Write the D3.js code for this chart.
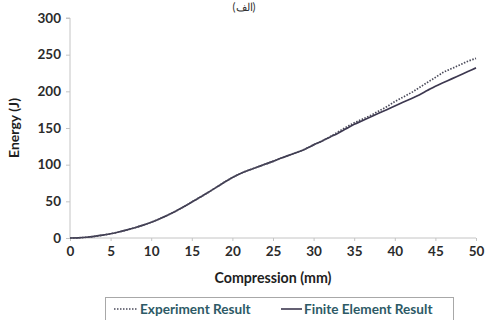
<!DOCTYPE html>
<html>
<head>
<meta charset="utf-8">
<script src="https://cdn.jsdelivr.net/npm/d3@7"></script>
<style>
  html, body { margin: 0; padding: 0; background: #fff; }
  svg { display: block; }
  text { font-family: Lato, "Open Sans", sans-serif; }
</style>
</head>
<body>
<svg id="chart" width="488" height="320"></svg>
<script>
// Compression (mm) sample points
const compression = [0, 1, 2, 3, 4, 5, 6, 7, 8, 9, 10, 11, 12, 13, 14, 15, 16, 17, 18, 19, 20,
  21, 22, 23, 24, 25, 26, 27, 28, 29, 30, 31, 32, 33, 34, 35, 36, 37, 38, 39, 40,
  41, 42, 43, 44, 45, 46, 47, 48, 49, 50];
// Absorbed energy (J), experiment
const experimentEnergy = [0, 0.3, 1, 2.2, 3.8, 5.8, 8.2, 11, 14, 17.5, 21.5, 26, 31, 36.5, 42.5, 49, 55.5, 62, 69, 76, 82.5,
  88, 92.5, 96.5, 100.5, 104.5, 109, 113, 117, 121.5, 127, 132, 138, 144.5, 151, 157, 162, 167, 173, 179, 186,
  192, 198, 205, 212, 219, 226, 231, 236, 241, 245];
// Absorbed energy (J), finite element model
const feEnergy = [0, 0.3, 1, 2.2, 3.8, 5.8, 8.2, 11, 14, 17.5, 21.5, 26, 31, 36.5, 42.5, 49, 55.5, 62, 69, 76, 82.5,
  88, 92.5, 96.5, 100.5, 104.5, 109, 113, 117, 121.5, 127, 132, 137.5, 143, 149, 155, 160, 165, 170, 175, 180,
  185, 190, 195, 201, 207, 212, 217, 222, 227, 232];
const xTicks = [0, 5, 10, 15, 20, 25, 30, 35, 40, 45, 50];
const yTicks = [0, 50, 100, 150, 200, 250, 300];
const seriesNames = ["Experiment Result", "Finite Element Result"];

const svg = d3.select("#chart");
const plotLeft = 70, plotRight = 476, plotTop = 18, plotBottom = 238;

const x = d3.scaleLinear().domain([0, 50]).range([plotLeft, plotRight]);
const y = d3.scaleLinear().domain([0, 300]).range([plotBottom, plotTop]);

const axisColor = "#c4c4c4";
const labelColor = "#2b2b2b";

// Title
svg.append("text")
  .attr("x", 244).attr("y", 11)
  .attr("text-anchor", "middle")
  .attr("font-size", 11)
  .attr("font-family", "'DejaVu Sans', sans-serif")
  .attr("fill", "#333")
  .text("(الف)");

// Y axis
const yAxis = svg.append("g")
  .attr("transform", `translate(${plotLeft},0)`)
  .call(d3.axisLeft(y).tickValues(yTicks).tickSize(4).tickPadding(5).tickFormat(d3.format("d")));
yAxis.select(".domain").attr("stroke", axisColor).attr("d", `M-4,${plotTop}H0V${plotBottom}`);
yAxis.selectAll(".tick line").attr("stroke", axisColor);
yAxis.selectAll(".tick text")
  .attr("font-family", "Lato, sans-serif")
  .attr("font-size", 13.5).attr("font-weight", "bold").attr("fill", labelColor);

// X axis
const xAxis = svg.append("g")
  .attr("transform", `translate(0,${plotBottom})`)
  .call(d3.axisBottom(x).tickValues(xTicks).tickSize(3).tickPadding(5));
xAxis.select(".domain").attr("stroke", axisColor).attr("d", `M${plotLeft},0H${plotRight}`);
xAxis.selectAll(".tick line").attr("stroke", axisColor);
xAxis.selectAll(".tick text")
  .attr("font-family", "Lato, sans-serif")
  .attr("font-size", 13.5).attr("font-weight", "bold").attr("fill", labelColor);

// Axis titles
svg.append("text")
  .attr("x", 273).attr("y", 283)
  .attr("text-anchor", "middle")
  .attr("font-size", 14.2).attr("font-weight", "bold").attr("fill", "#1e1e1e")
  .text("Compression (mm)");

svg.append("text")
  .attr("transform", "translate(19,128) rotate(-90)")
  .attr("text-anchor", "middle")
  .attr("font-size", 14).attr("font-weight", "bold").attr("fill", "#1e1e1e")
  .text("Energy (J)");

// Curves
const line = d3.line()
  .x((d, i) => x(compression[i]))
  .y(d => y(d))
  .curve(d3.curveMonotoneX);

svg.append("path")
  .datum(feEnergy)
  .attr("fill", "none")
  .attr("stroke", "#3d3850")
  .attr("stroke-width", 1.7)
  .attr("d", line);

svg.append("path")
  .datum(experimentEnergy)
  .attr("fill", "none")
  .attr("stroke", "#4a4a5a")
  .attr("stroke-width", 1.7)
  .attr("stroke-dasharray", "1.5,1.5")
  .attr("d", line);

// Legend
const legend = svg.append("g");
legend.append("rect")
  .attr("x", 105.5).attr("y", 297.5)
  .attr("width", 348).attr("height", 24)
  .attr("fill", "#fff")
  .attr("stroke", "#a8a8a8");

const legendItems = [
  { name: seriesNames[0], x1: 114, x2: 138, tx: 140, dash: "1.5,1.5", color: "#4a4a5a" },
  { name: seriesNames[1], x1: 281, x2: 302, tx: 304, dash: null, color: "#3d3850" }
];
legendItems.forEach(it => {
  legend.append("line")
    .attr("x1", it.x1).attr("x2", it.x2)
    .attr("y1", 309).attr("y2", 309)
    .attr("stroke", it.color).attr("stroke-width", 1.6)
    .attr("stroke-dasharray", it.dash);
  legend.append("text")
    .attr("x", it.tx).attr("y", 314)
    .attr("font-size", 13.6).attr("font-weight", "bold")
    .attr("fill", "#2d5a66")
    .text(it.name);
});
</script>
</body>
</html>
